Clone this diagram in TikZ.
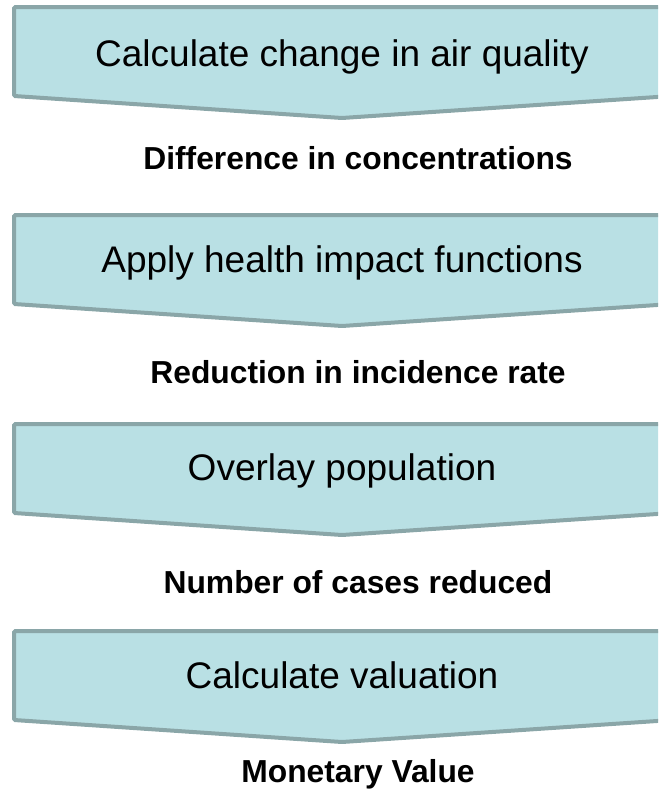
\documentclass[tikz,border=0pt]{standalone}
\usepackage{fontspec}
\setmainfont{Liberation Sans}
\usetikzlibrary{positioning}
\definecolor{stepfill}{RGB}{185,224,228}
\definecolor{stepline}{RGB}{138,166,168}
\tikzset{chevron/.style={draw=stepline,fill=stepfill,line width=3pt,rounded corners=1pt}}
\tikzset{steptext/.style={anchor=base,inner sep=0pt,font=\fontsize{27.75}{33}\selectfont}}
\tikzset{result/.style={anchor=base,inner sep=0pt,font=\fontsize{23.85}{29}\selectfont\bfseries}}

\begin{document}
\begin{tikzpicture}[x=0.75pt,y=-0.75pt]
        \useasboundingbox (0,0) rectangle (658,789);
        \clip (0,0) rectangle (658,789);
        \foreach \i/\top/\tb/\lb/\txt/\lbl in {
            1/5/66/169/Calculate change in air quality/Difference in concentrations,
            2/213/272/383/Apply health impact functions/Reduction in incidence rate,
            3/422/480/593/Overlay population/Number of cases reduced,
            4/629/688/782/Calculate valuation/Monetary Value}{
          \draw[chevron] (14,\top+2) -- (672,\top+2) -- (672,\top+91)
                -- (342,\top+113) -- (14,\top+91) -- cycle;
          \node[steptext] (step\i) at (342,\tb) {\txt};
          \node[result] (out\i) at (358,\lb) {\lbl};
        }
      \end{tikzpicture}
\end{document}
